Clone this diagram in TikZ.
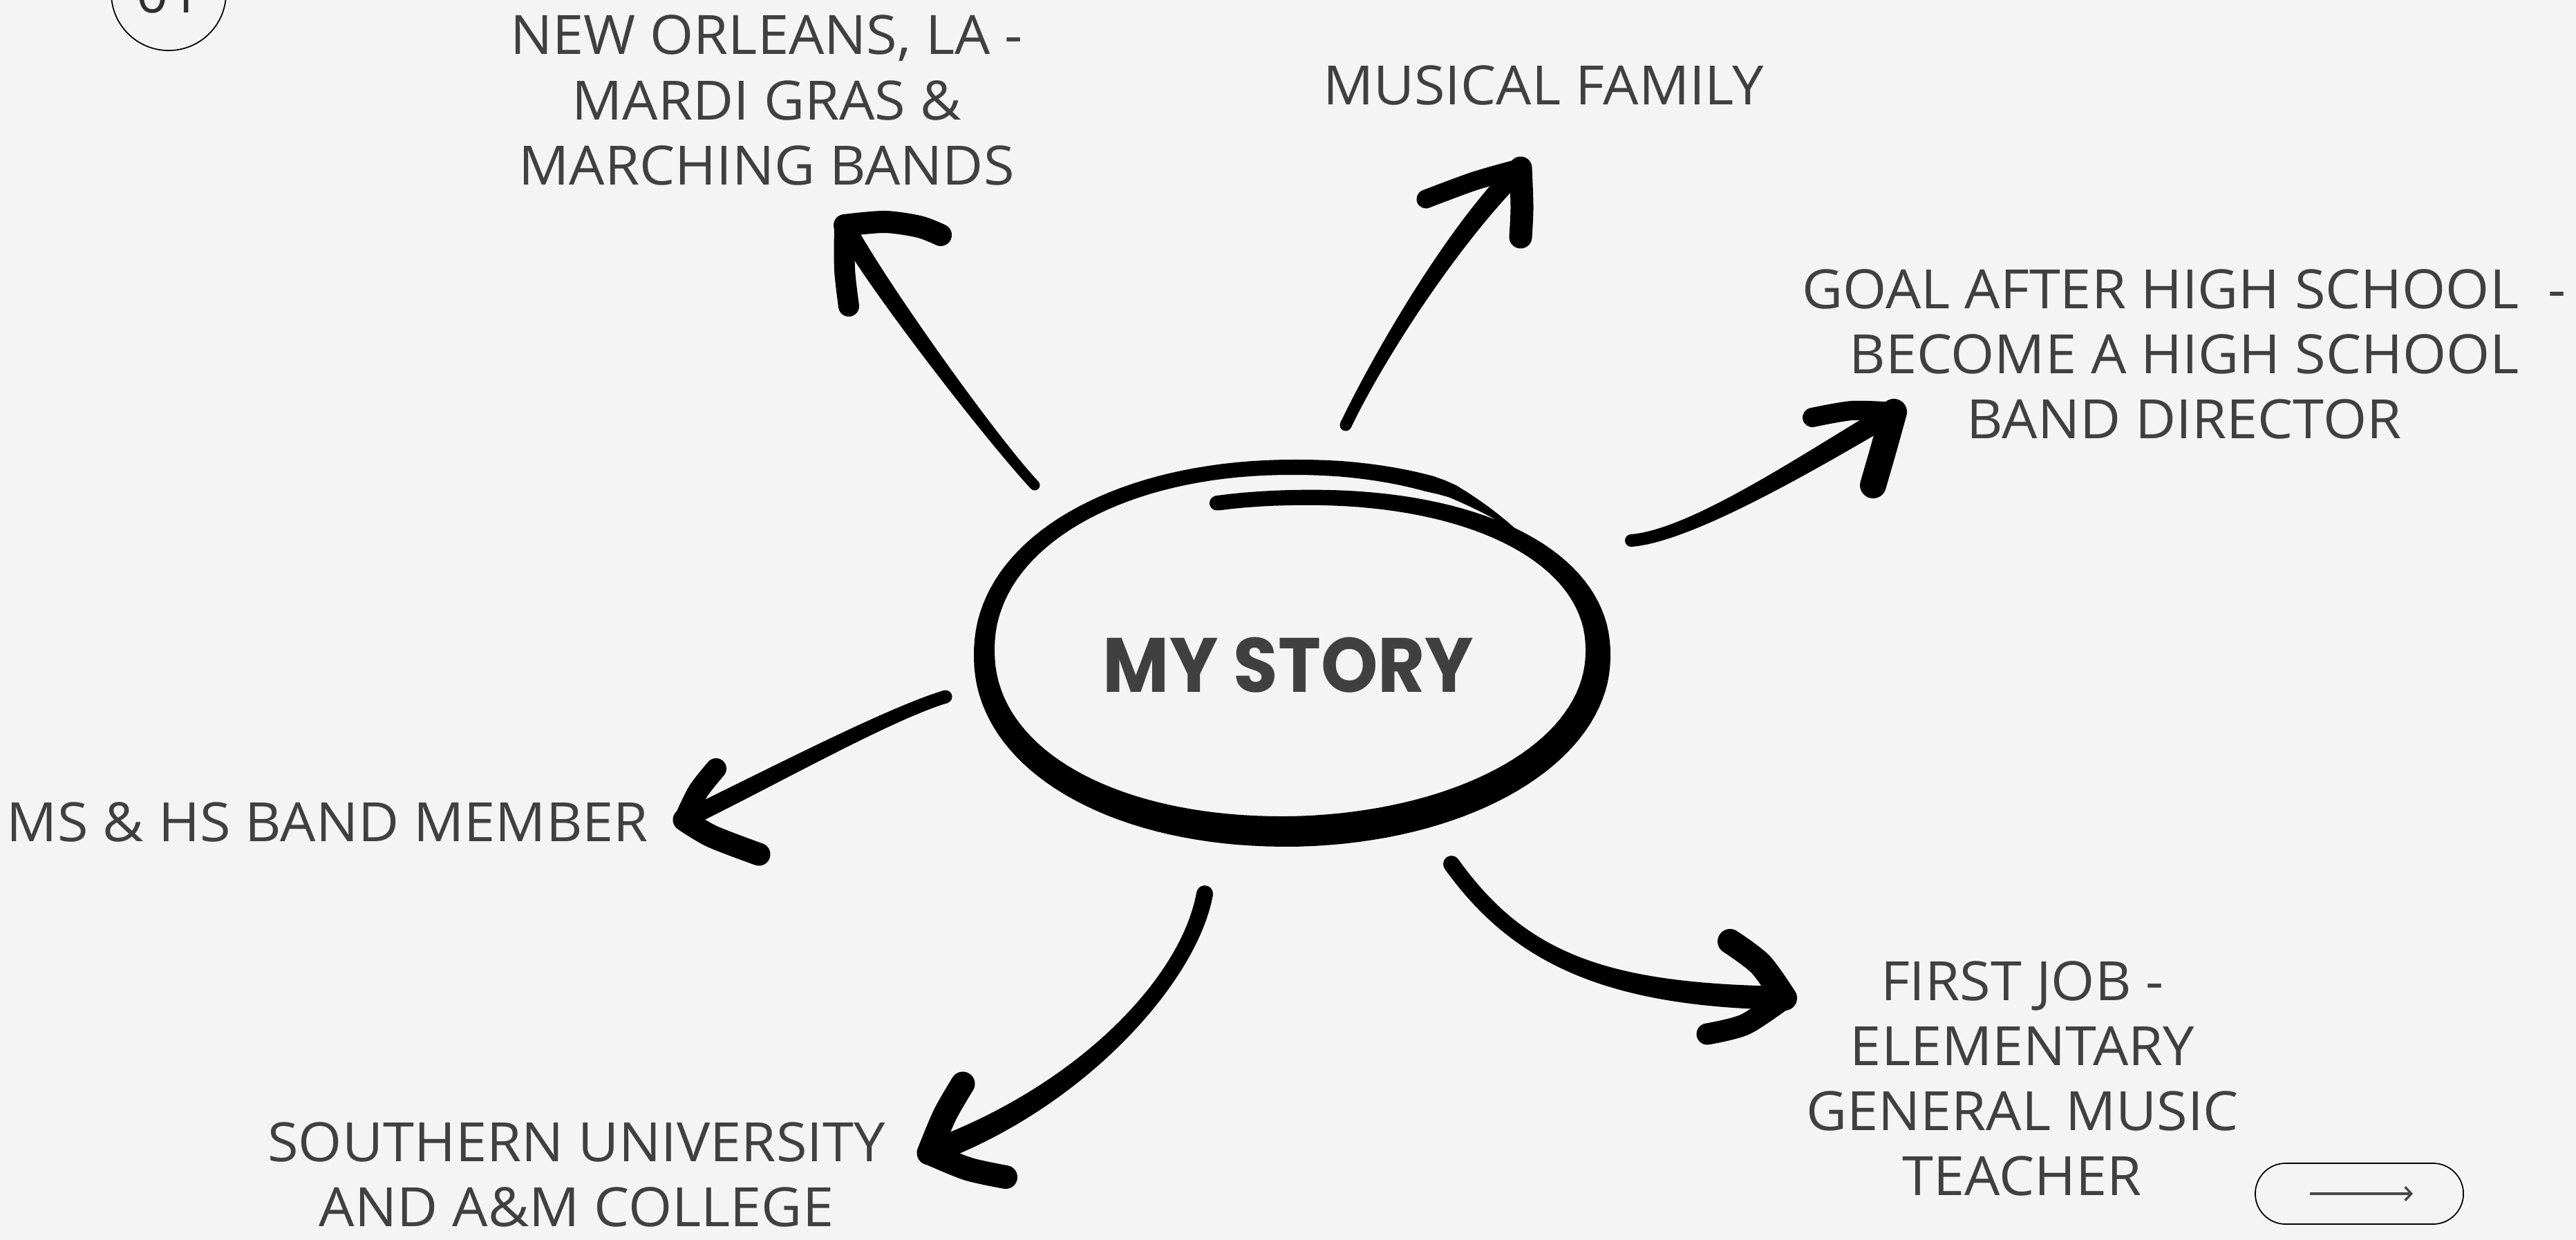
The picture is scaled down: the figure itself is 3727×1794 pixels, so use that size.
\documentclass[tikz,border=0pt]{standalone}
\usepackage{fontspec}
\setmainfont{Open Sans}[FakeStretch=1.035]
\newfontfamily\titlefont{Poppins}
\usepackage{graphicx}
\usetikzlibrary{arrows.meta,calc}
\definecolor{bg}{HTML}{F4F4F4}
\definecolor{txt}{HTML}{404040}
\definecolor{numc}{HTML}{2E2E2E}
\definecolor{btnarrow}{HTML}{474747}
\newcommand{\lblines}[1]{\begin{tabular}[t]{@{}c@{}}#1\end{tabular}}
% tapered stroke: P0, C1, C2, P3, radius at P0, radius at P3
\newcommand{\taper}[6]{%
  \path ($(#1)!#5!90:(#2)$) coordinate (tpA) ($(#1)!#5!-90:(#2)$) coordinate (tpB)
        ($(#4)!#6!-90:(#3)$) coordinate (tpC) ($(#4)!#6!90:(#3)$) coordinate (tpD);
  \fill[black] (tpA) .. controls ($(#2)+(tpA)-(#1)$) and ($(#3)+(tpC)-(#4)$) .. (tpC)
     -- (tpD) .. controls ($(#3)+(tpD)-(#4)$) and ($(#2)+(tpB)-(#1)$) .. (tpB) -- cycle;
  \fill[black] (#1) circle[radius=#5];
  \fill[black] (#4) circle[radius=#6];}
\begin{document}
\begin{tikzpicture}[x=0.01cm,y=-0.01cm,
  inkline/.style={line cap=round,line join=round,draw=black},
  lbl/.style={text=txt,font=\fontsize{22.3}{26.75}\selectfont,inner sep=0pt,anchor=base},
  declare function={
    sp(\u)=ifthenelse(\u<0,-1,1)*pow(abs(\u)+0.00001,0.95);
    rb(\t)=ifthenelse(\t<90,224+(\t+90)*35/180,ifthenelse(\t<300,259+(\t-90)*9/180,269.5-(\t-300)*1.2));
    ww(\t)=(33+11*sin(\t)+3*cos(\t))*min(1,max(0.12,(318-\t)/22));
  }]
\useasboundingbox (0,0) rectangle (3727,1794);
\fill[bg] (0,0) rectangle (3727,1794);

% page number circle
\node[circle,draw=black,line width=0.5pt,minimum size=1.66cm,inner sep=0pt,text=numc,
  font=\fontsize{22.3}{26}\selectfont] (num) at (244,-10) {01};

% labels
\node[lbl] (neworleans) at (1109,79) {\lblines{NEW ORLEANS, LA -\\MARDI GRAS \&\\MARCHING BANDS}};
\node[lbl] (family) at (2233,152) {MUSICAL FAMILY};
\node[lbl] (goal) at (3160,446) {\lblines{GOAL AFTER HIGH SCHOOL\ \ -\\BECOME A HIGH SCHOOL\\BAND DIRECTOR}};
\node[lbl] (band) at (474,1217) {MS \& HS BAND MEMBER};
\node[lbl] (southern) at (834,1680) {\lblines{SOUTHERN UNIVERSITY\\AND A\&M COLLEGE}};
\node[lbl] (firstjob) at (2926,1447) {\lblines{FIRST JOB -\\ELEMENTARY\\GENERAL MUSIC\\TEACHER}};

% central scribbled ellipse (a spiral stroke of varying width)
\fill[black] plot[domain=-103:318,samples=170,variable=\t]
   ({1868+(444+ww(\t)/2)*sp(cos(\t))},{944+(rb(\t)+ww(\t)/2)*sp(sin(\t))})
 -- plot[domain=318:-103,samples=170,variable=\t]
   ({1868+(444-ww(\t)/2)*sp(cos(\t))},{944+(rb(\t)-ww(\t)/2)*sp(sin(\t))}) -- cycle;
\fill[black] ({1868+444*sp(cos(-103))},{944+rb(-103)*sp(sin(-103))}) circle[radius=0.105cm];
\node[anchor=base,inner sep=0pt,text=txt] (story) at (1864,1001)
  {\resizebox{5.36cm}{\height}{\titlefont\bfseries\fontsize{31.7}{36}\selectfont MY STORY}};

% arrow 1: to New Orleans
\coordinate (a1tail) at (1497,702); \coordinate (a1tip) at (1222,326);
\taper{a1tail}{1430,630}{1260,400}{a1tip}{0.075cm}{0.14cm}
\draw[inkline,line width=0.32cm] plot[smooth] coordinates {(a1tip) (1280,321) (1330,328) (1361,340)};
\draw[inkline,line width=0.30cm] plot[smooth] coordinates {(a1tip) (1222,390) (1228,443)};

% arrow 2: to Musical family
\coordinate (a2tail) at (1947,615); \coordinate (a2tip) at (2200,243);
\taper{a2tail}{2000,505}{2110,330}{a2tip}{0.085cm}{0.145cm}
\draw[inkline,line width=0.27cm] plot[smooth] coordinates {(a2tip) (2133,262) (2063,288)};
\draw[inkline,line width=0.33cm] plot[smooth] coordinates {(a2tip) (2202,300) (2200,343)};

% arrow 3: to Goal
\coordinate (a3tail) at (2360,782); \coordinate (a3tip) at (2740,596);
\taper{a3tail}{2450,775}{2630,660}{a3tip}{0.09cm}{0.15cm}
\draw[inkline,line width=0.28cm] plot[smooth] coordinates {(a3tip) (2680,594) (2622,604)};
\draw[inkline,line width=0.38cm] plot[smooth] coordinates {(a3tip) (2725,650) (2710,702)};

% arrow 4: to MS & HS band member
\coordinate (a4tail) at (1368,1008); \coordinate (a4tip) at (990,1186);
\taper{a4tail}{1285,1033}{1110,1128}{a4tip}{0.095cm}{0.13cm}
\draw[inkline,line width=0.30cm] plot[smooth] coordinates {(a4tip) (1010,1145) (1036,1112)};
\draw[inkline,line width=0.33cm] plot[smooth] coordinates {(a4tip) (1030,1210) (1098,1236)};

% arrow 5: to Southern University
\coordinate (a5tail) at (1743,1293); \coordinate (a5tip) at (1344,1668);
\taper{a5tail}{1720,1420}{1560,1590}{a5tip}{0.12cm}{0.17cm}
\draw[inkline,line width=0.35cm] plot[smooth] coordinates {(a5tip) (1367,1613) (1393,1568)};
\draw[inkline,line width=0.34cm] plot[smooth] coordinates {(a5tip) (1400,1691) (1455,1703)};

% arrow 6: to First job
\coordinate (a6tail) at (2100,1250); \coordinate (a6tip) at (2582,1444);
\taper{a6tail}{2200,1390}{2330,1440}{a6tip}{0.12cm}{0.17cm}
\draw[inkline,line width=0.36cm] plot[smooth] coordinates {(a6tip) (2547,1395) (2503,1362)};
\draw[inkline,line width=0.31cm] plot[smooth] coordinates {(a6tip) (2525,1482) (2470,1496)};

% next button
\node[draw=black,line width=0.5pt,rounded corners=0.44cm,minimum width=3.01cm,minimum height=0.88cm,inner sep=0pt] (next) at (3413.5,1727) {};
\coordinate (nextA) at (3342,1727); \coordinate (nextB) at (3491,1727);
\draw[btnarrow,line width=0.95pt,-{Straight Barb[length=2.6pt,width=5.6pt]}] (nextA) -- (nextB);
\end{tikzpicture}
\end{document}
